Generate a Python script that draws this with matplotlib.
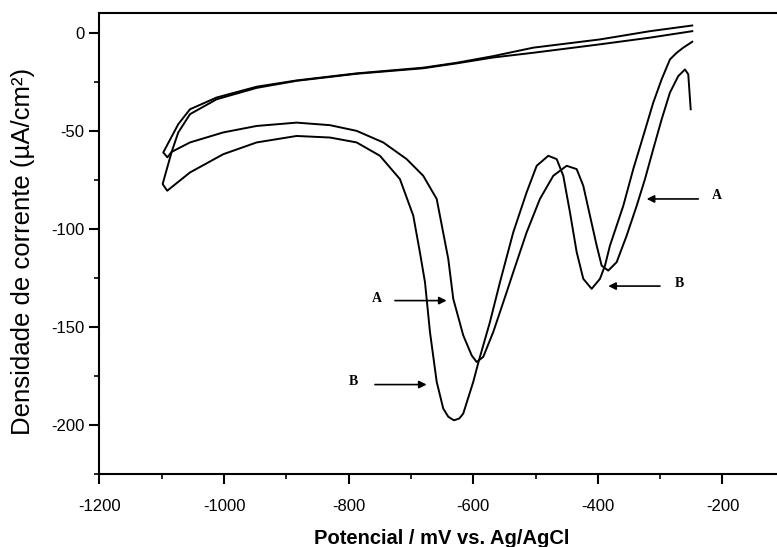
import matplotlib
matplotlib.use("Agg")
import matplotlib.pyplot as plt
from matplotlib.ticker import MultipleLocator

plt.rcParams['font.family'] = ['Liberation Sans', 'DejaVu Sans']
plt.rcParams['axes.unicode_minus'] = False

# Voltammogram A: start at -250 mV, sweep to -1100 mV and back
pot_A = [-251, -254.9, -260.2, -271, -284.3, -297.6, -311.1, -324.4, -337.7, -353.8,
         -369.8, -383.3, -393.9, -401.9, -412.7, -423.4, -434, -450.1, -471.6, -493,
         -514.3, -535.8, -546.4, -567.9, -584, -594.5, -602.6, -616.1, -632.1, -640.1,
         -658.7, -680.3, -706.9, -744.5, -787.2, -830, -883.5, -947.7, -1001.3, -1054.7,
         -1084.1, -1091, -1097.6, -1073.5, -1054.7, -1011.9, -947.7, -883.5, -787.2, -680.3,
         -626.6, -567.9, -503.7, -396.6, -316.4, -248.5]
cur_A = [-39.0, -21.2, -18.7, -22.1, -30.5, -44.1, -59.3, -74.6, -88.2, -103.4,
         -116.9, -121.2, -118.7, -108.5, -93.2, -78.0, -69.5, -67.8, -72.9, -84.7,
         -101.7, -122.0, -132.2, -152.5, -165.2, -167.8, -164.4, -154.2, -135.6, -115.3,
         -84.7, -72.9, -64.4, -55.9, -50.0, -47.1, -45.8, -47.5, -50.8, -55.9,
         -60.7, -63.5, -61.0, -46.6, -39.0, -33.0, -27.5, -24.3, -20.7, -17.8,
         -15.3, -11.9, -7.6, -3.4, 0.8, 3.7]

# Voltammogram B
pot_B = [-248.5, -262.9, -273.5, -284.3, -297.6, -311.1, -327.1, -343.2, -359.2, -380.6,
         -388.6, -396.6, -410, -423.4, -434, -444.8, -455.5, -466.1, -479.6, -498.2,
         -514.3, -535.8, -557.1, -573.2, -590.9, -600, -616.1, -622.5, -631, -640.1,
         -648.2, -658.7, -669.5, -677.5, -685.6, -696.3, -717.7, -749.8, -787.2, -830,
         -883.5, -947.7, -1001.3, -1054.7, -1091.2, -1098.6, -1084.1, -1073.5, -1054.7, -1011.9,
         -947.7, -883.5, -787.2, -680.3, -626.6, -567.9, -503.7, -396.6, -316.4, -248.5]
cur_B = [-4.6, -7.6, -10.2, -13.6, -23.7, -35.6, -52.6, -69.5, -88.2, -108.5,
         -118.7, -125.4, -130.5, -125.4, -111.8, -91.5, -72.9, -64.4, -62.7, -67.8,
         -81.3, -101.7, -127.1, -147.4, -167.0, -177.9, -194.1, -196.6, -197.5, -195.7,
         -191.5, -177.9, -152.5, -127.1, -112.0, -93.2, -74.6, -62.7, -55.9, -53.4,
         -52.6, -55.9, -61.9, -71.2, -80.5, -77.1, -60.7, -50.8, -41.5, -33.9,
         -28.1, -24.5, -20.9, -18.1, -15.6, -12.6, -10.2, -5.9, -2.5, 0.8]

fig = plt.figure(figsize=(7.77, 5.47), dpi=100)
ax = fig.add_axes([0.128, 0.133, 0.882, 0.843])

ax.plot(pot_A, cur_A, color='black', lw=1.4)
ax.plot(pot_B, cur_B, color='black', lw=1.4)

ax.set_xlim(-1200, -100)
ax.set_ylim(-225, 10)
ax.xaxis.set_major_locator(MultipleLocator(200))
ax.xaxis.set_minor_locator(MultipleLocator(100))
ax.yaxis.set_major_locator(MultipleLocator(50))
ax.yaxis.set_minor_locator(MultipleLocator(25))
ax.tick_params(which='major', direction='out', length=7, width=1.5, labelsize=12)
ax.tick_params(which='minor', direction='out', length=3.5, width=1.2)
ax.tick_params(axis='x', which='major', pad=11)
ax.tick_params(axis='y', which='major', pad=4)
ax.spines['right'].set_visible(False)
for s in ['left', 'bottom', 'top']:
    ax.spines[s].set_linewidth(1.5)

fig.text(441.5 / 777, 1 - 544 / 547, 'Potencial / mV vs. Ag/AgCl', fontsize=14.5,
         fontweight='bold', ha='center', va='baseline')
fig.text(23 / 777, 1 - 251.5 / 547, 'Densidade de corrente (µA/cm²)', fontsize=18.5,
         rotation=90, ha='center', va='center')

# curve labels with arrows
arrow = dict(arrowstyle='-|>', color='black', lw=1.2, mutation_scale=11, shrinkA=0, shrinkB=0)
lab = dict(fontsize=10, fontweight='bold', family='Liberation Serif', va='center', ha='center')
ax.annotate('', xy=(-642.7, -136.5), xytext=(-725.7, -136.5), arrowprops=arrow)
ax.text(-755, -135.6, 'A', **lab)
ax.annotate('', xy=(-674.8, -179.3), xytext=(-757.8, -179.3), arrowprops=arrow)
ax.text(-792.6, -177.9, 'B', **lab)
ax.annotate('', xy=(-321.7, -84.7), xytext=(-238.8, -84.7), arrowprops=arrow)
ax.text(-209.3, -83.1, 'A', **lab)
ax.annotate('', xy=(-383.3, -129.1), xytext=(-300.3, -129.1), arrowprops=arrow)
ax.text(-269.3, -128.0, 'B', **lab)

fig.savefig('out.png', dpi=100)
